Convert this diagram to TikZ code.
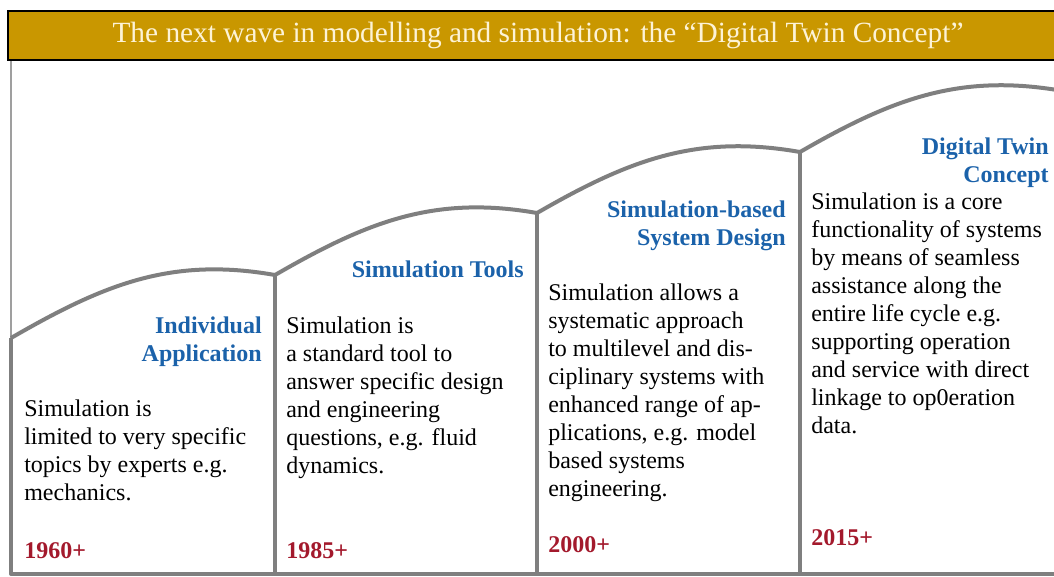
\documentclass[tikz,border=0pt]{standalone}
\usepackage{fontspec}
\setmainfont{Liberation Serif}
\definecolor{barGold}{HTML}{C99700}
\definecolor{titleCream}{HTML}{FDF3D6}
\definecolor{wallGray}{HTML}{7F7F7F}
\definecolor{headBlue}{HTML}{1B62AA}
\definecolor{yearRed}{HTML}{A3192C}

\begin{document}
\begin{tikzpicture}
        [x=0.75pt, y=-0.75pt, every node/.style={inner sep=0, font=\fontsize{18}{21}\selectfont},
        wall/.style={draw=wallGray, line width=3pt, line join=round},
        heading/.style={font=\fontsize{18}{21}\selectfont\bfseries, text=headBlue, align=right, anchor=north east},
        body/.style={align=left, anchor=north west},
        year/.style={font=\fontsize{18}{21}\selectfont\bfseries, text=yearRed, anchor=west}]

        \useasboundingbox (0,0) rectangle (1054,576);

        % title bar
        \draw[fill=barGold, line width=1.2pt] (8,11) rectangle (1064,60);
        \node[font=\fontsize{22}{25}\selectfont, text=titleCream] (title) at (538,35)
          {The next wave in modelling and simulation: the “Digital Twin Concept”};

        % joints of the roofs
        \coordinate (top) at (11,61);
        \coordinate (bot) at (0,574);
        \coordinate (j0) at (11,338);
        \coordinate (j1) at (275,275);
        \coordinate (j2) at (537,213);
        \coordinate (j3) at (800,152);
        \coordinate (j4) at (1063,91);

        \draw[draw=wallGray!75, line width=2.2pt] (top) -- (j0);
        \draw[wall] (j0) to[out=30, in=170] (j1);
        \draw[wall] (j1) to[out=30, in=170] (j2);
        \draw[wall] (j2) to[out=30, in=170] (j3);
        \draw[wall] (j3) to[out=30, in=170] (j4);
        \draw[wall] (j0) -- (j0 |- bot) -- (1064,574);
        \draw[wall] (j1) -- (j1 |- bot);
        \draw[wall] (j2) -- (j2 |- bot);
        \draw[wall] (j3) -- (j3 |- bot);

        % 1960
        \node[heading] (head1) at (262,317) {Individual\\Application};
        \node[body] (body1) at (24,399.5) {Simulation is\\limited to very specific\\topics by experts e.g.\\mechanics.};
        \node[year] (year1) at (24,551) {1960+};

        % 1985
        \node[heading] (head2) at (524,260.5) {Simulation Tools};
        \node[body] (body2) at (286,316.5) {Simulation is\\a standard tool to\\answer specific design\\and engineering\\questions, e.g. fluid\\dynamics.};
        \node[year] (year2) at (286,551) {1985+};

        % 2000
        \node[heading] (head3) at (786,200.5) {Simulation-based\\System Design};
        \node[body] (body3) at (548,283.5) {Simulation allows a\\systematic approach\\to multilevel and dis-\\ciplinary systems with\\enhanced range of ap-\\plications, e.g. model\\based systems\\engineering.};
        \node[year] (year3) at (548,545) {2000+};

        % 2015
        \node[heading] (head4) at (1049,137.5) {Digital Twin\\Concept};
        \node[body] (body4) at (811,192.5) {Simulation is a core\\functionality of systems\\by means of seamless\\assistance along the\\entire life cycle e.g.\\supporting operation\\and service with direct\\linkage to op0eration\\data.};
        \node[year] (year4) at (811,538) {2015+};

      \end{tikzpicture}
\end{document}
